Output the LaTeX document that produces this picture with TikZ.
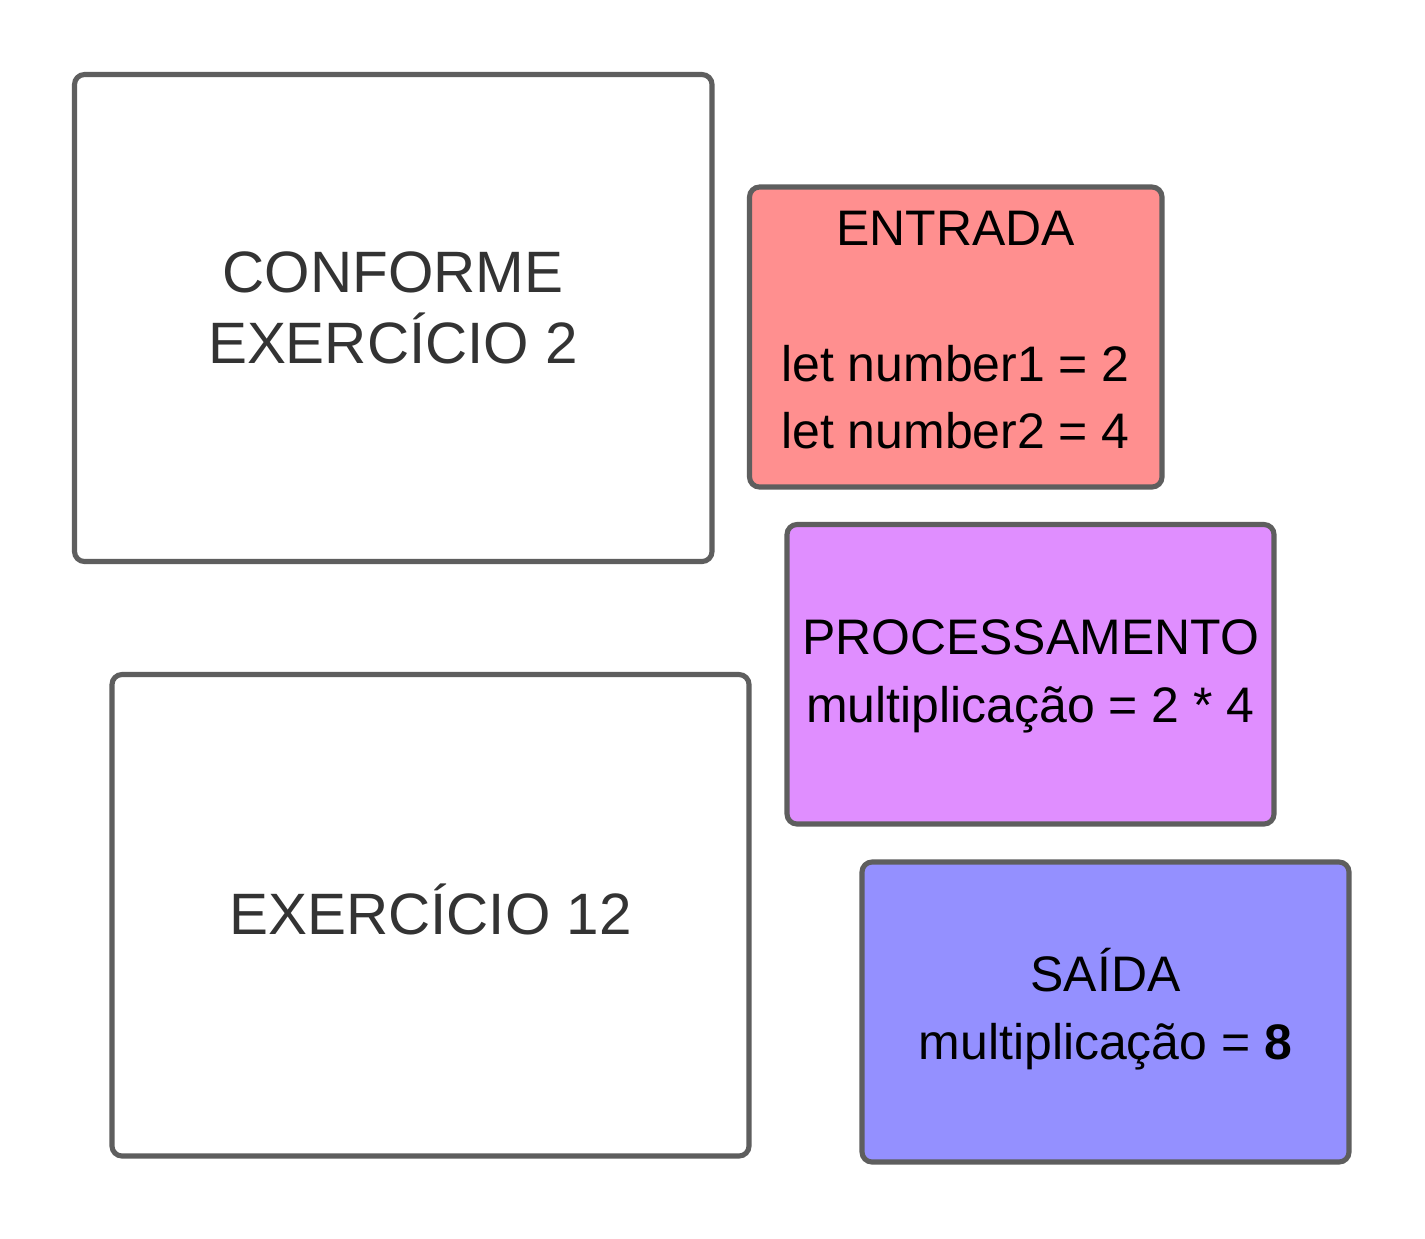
\documentclass[tikz,border=0pt]{standalone}
\usepackage{fontspec}
\setmainfont{Liberation Sans}
\definecolor{bordc}{HTML}{5E5E5E}
\definecolor{entc}{HTML}{FF8F8F}
\definecolor{proc}{HTML}{E08EFF}
\definecolor{saic}{HTML}{9490FF}
\definecolor{txtg}{HTML}{333333}
\begin{document}
\begin{tikzpicture}[x=0.01cm,y=-0.01cm,
  boxst/.style={draw=bordc,line width=1.45pt,rounded corners=0.1cm},
  bigtxt/.style={anchor=base,inner sep=0pt,text=txtg,font=\fontsize{16.6pt}{19.9pt}\selectfont},
  smtxt/.style={anchor=base,inner sep=0pt,text=black,font=\fontsize{14.2pt}{17pt}\selectfont}]
\useasboundingbox (0,0) rectangle (1425,1238);
\fill[white] (0,0) rectangle (1425,1238);
% boxes
\draw[boxst,fill=white] (74.5,74.5) rectangle (712,561.5);
\draw[boxst,fill=white] (112,674.5) rectangle (749,1156);
\draw[boxst,fill=entc] (749.5,187) rectangle (1162,487);
\draw[boxst,fill=proc] (787,524.5) rectangle (1274,824);
\draw[boxst,fill=saic] (862,862) rectangle (1349,1162);
% texts
\node[bigtxt] (c1) at (393,292) {CONFORME};
\node[bigtxt] (c2) at (393,363) {EXERCÍCIO 2};
\node[bigtxt] (e12) at (430.5,934) {EXERCÍCIO 12};
\node[smtxt] (en1) at (955.5,245.5) {ENTRADA};
\node[smtxt] (en2) at (955.5,381) {let number1 = 2};
\node[smtxt] (en3) at (955.5,448.5) {let number2 = 4};
\node[smtxt] (pr1) at (1030.5,654) {PROCESSAMENTO};
\node[smtxt] (pr2) at (1030.5,722) {multiplicação = 2 * 4};
\node[smtxt] (sa1) at (1105.5,991.5) {SAÍDA};
\node[smtxt] (sa2) at (1105.5,1059.5) {multiplicação = \textbf{8}};
\end{tikzpicture}
\end{document}
